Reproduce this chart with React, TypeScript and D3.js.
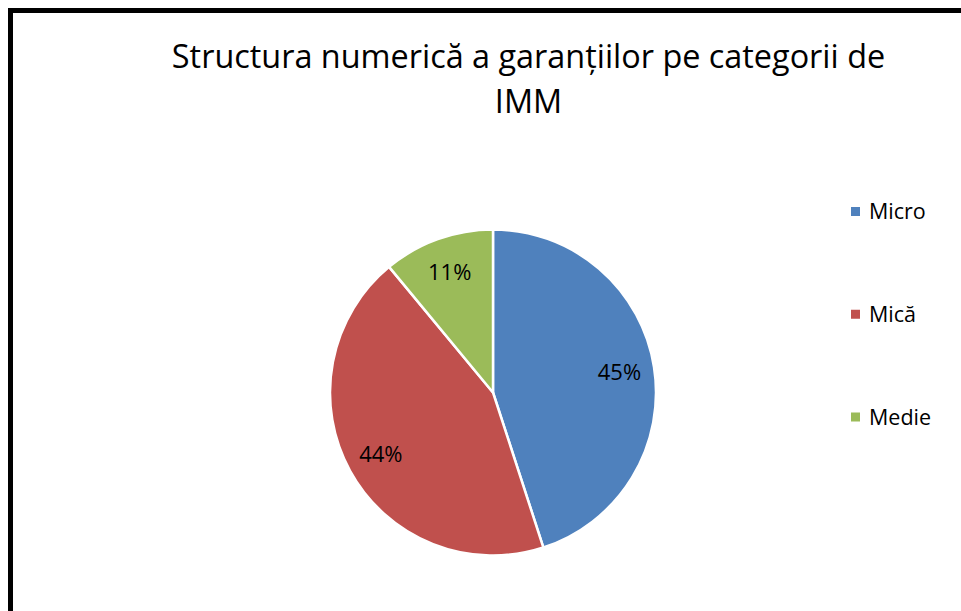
import React from "react";
import * as d3 from "d3";

const categories = ["Micro", "Mică", "Medie"];
const values = [45, 44, 11];
const labels = ["45%", "44%", "11%"];
const colors = ["#4F81BD", "#C0504D", "#9BBB59"];
const titleLines = ["Structura numerică a garanțiilor pe categorii de", "IMM"];

export default function App() {
  const W = 961;
  const H = 611;
  const cx = 493;
  const cy = 392.5;
  const r = 163;
  const pie = d3.pie<number>().sort(null).value((d) => d)(values);
  const arc = d3.arc<d3.PieArcDatum<number>>().innerRadius(0).outerRadius(r);
  const labelArc = d3.arc<d3.PieArcDatum<number>>().innerRadius(128).outerRadius(128);
  const font = "'Open Sans', sans-serif";
  const legendY = d3.scalePoint<string>().domain(categories).range([211.5, 417]);

  return (
    <svg width={W} height={H} style={{ position: "absolute", left: 0, top: 0, background: "#fff" }}>
      <rect x={10.5} y={10.5} width={1200} height={1200} fill="#fff" stroke="#000" strokeWidth={5} />
      {titleLines.map((t, i) => (
        <text key={i} x={528.5} y={68 + i * 45} textAnchor="middle" fontFamily={font} fontSize={32.4} fill="#000">
          {t}
        </text>
      ))}
      <g transform={`translate(${cx},${cy})`}>
        {pie.map((p, i) => (
          <path key={i} d={arc(p) || ""} fill={colors[i]} stroke="#fff" strokeWidth={2.5} strokeLinejoin="round" />
        ))}
        {pie.map((p, i) => {
          const [x, y] = labelArc.centroid(p);
          return (
            <text key={i} x={x} y={y} dy="0.36em" textAnchor="middle" fontFamily={font} fontSize={22} fill="#000">
              {labels[i]}
            </text>
          );
        })}
      </g>
      {categories.map((c, i) => (
        <g key={c} transform={`translate(851,${legendY(c)})`}>
          <rect x={0} y={-4.5} width={9} height={9} fill={colors[i]} />
          <text x={18} y={0} dy="0.36em" fontFamily={font} fontSize={21.5} fill="#000">
            {c}
          </text>
        </g>
      ))}
    </svg>
  );
}
